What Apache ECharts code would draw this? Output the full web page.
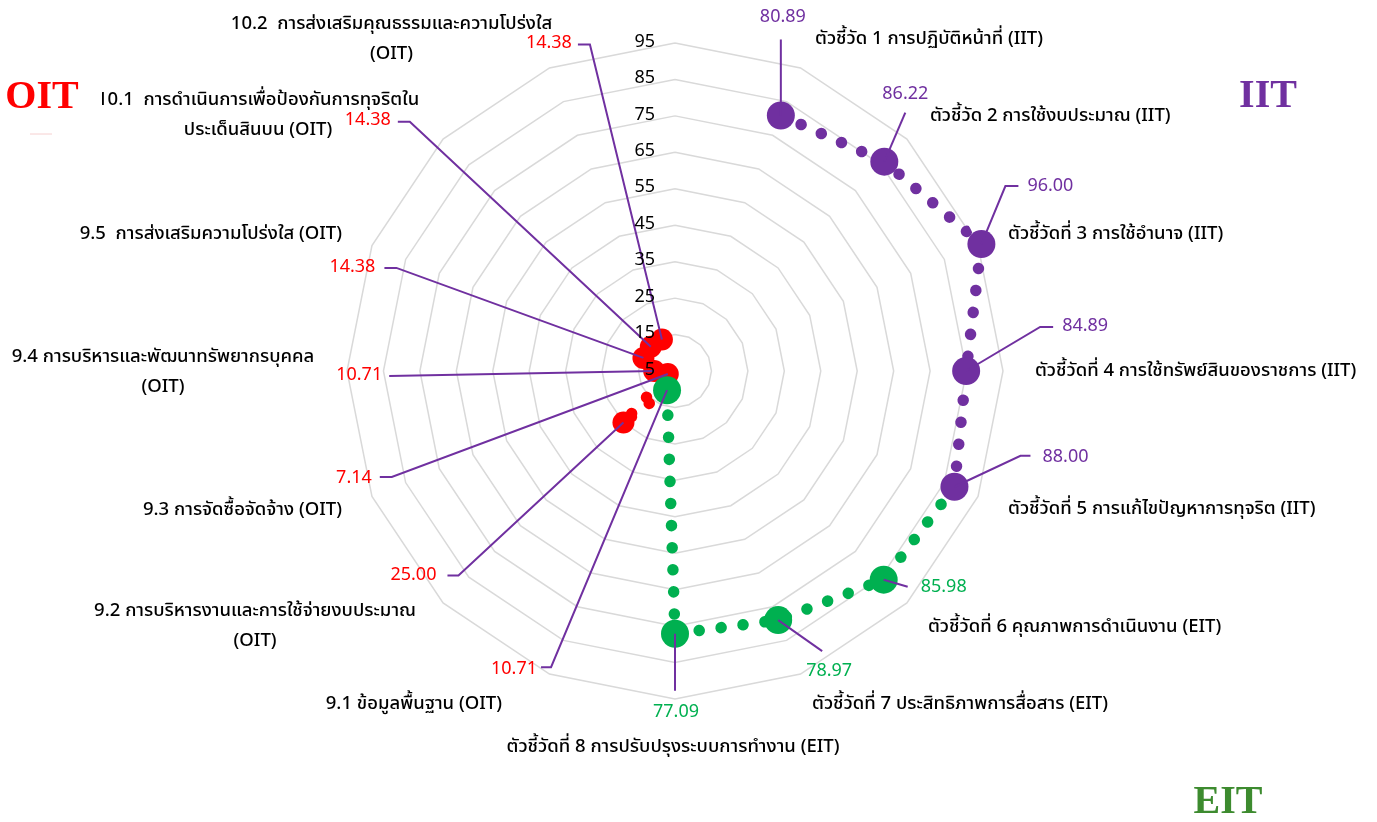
<!DOCTYPE html>
<html><head><meta charset="utf-8">
<script src="https://cdn.jsdelivr.net/npm/echarts@6/dist/echarts.min.js"></script>
<style>html,body{margin:0;padding:0;background:#fff}#c{width:1377px;height:822px}</style>
</head><body><div id="c"></div>
<script>
// ---- data ----
const categories = [
  '',
  'ตัวชี้วัด 1 การปฏิบัติหน้าที่ (IIT)',
  'ตัวชี้วัด 2 การใช้งบประมาณ (IIT)',
  'ตัวชี้วัดที่ 3 การใช้อำนาจ (IIT)',
  'ตัวชี้วัดที่ 4 การใช้ทรัพย์สินของราชการ (IIT)',
  'ตัวชี้วัดที่ 5 การแก้ไขปัญหาการทุจริต (IIT)',
  'ตัวชี้วัดที่ 6 คุณภาพการดำเนินงาน (EIT)',
  'ตัวชี้วัดที่ 7 ประสิทธิภาพการสื่อสาร (EIT)',
  'ตัวชี้วัดที่ 8 การปรับปรุงระบบการทำงาน (EIT)',
  '9.1 ข้อมูลพื้นฐาน (OIT)',
  '9.2 การบริหารงานและการใช้จ่ายงบประมาณ\n(OIT)',
  '9.3 การจัดซื้อจัดจ้าง (OIT)',
  '9.4 การบริหารและพัฒนาทรัพยากรบุคคล\n(OIT)',
  '9.5  การส่งเสริมความโปร่งใส (OIT)',
  '10.1  การดำเนินการเพื่อป้องกันการทุจริตใน\nประเด็นสินบน (OIT)',
  '10.2  การส่งเสริมคุณธรรมและความโปร่งใส\n(OIT)'
];
const iitScores = [80.89, 86.22, 96.00, 84.89, 88.00];           // indicators 1-5
const eitScores = [85.98, 78.97, 77.09];                         // indicators 6-8
const oitScores = [10.71, 25.00, 7.14, 10.71, 14.38, 14.38, 14.38]; // 9.1 - 10.2
const tickValues = [5, 15, 25, 35, 45, 55, 65, 75, 85, 95];

// ---- styling / layout ----
const PURPLE = '#7030A0', GREEN = '#00B050', RED = '#FF0000';
const CX = 675, CY = 371, R = 328;
const FONT = '"Leelawadee UI", Tahoma, "Noto Sans Thai", "Noto Sans", sans-serif';

// name label offsets relative to the outer (95) vertex of each spoke
const nameLayout = [
  null,
  [14.5, -28, 'left'], [23, -22, 'left'], [30, -10.5, 'left'], [32, 1, 'left'],
  [30, 13.5, 'left'], [21, 25, 'left'], [11.5, 31, 'left'], [-2, 49, 'center'],
  [-47.5, 31, 'right'], [-188, 24.5, 'center'], [-30, 14.5, 'right'], [-184, 2, 'center'],
  [-30, -10.5, 'right'], [-185, -22.5, 'center'], [-158, -28, 'center']
];
// value label leader offsets relative to the data point
const leaderLayout = [
  {e: [0, -76], t: [2, -97, 'center']},
  {e: [21, -49], t: [21, -66, 'center']},
  {e: [24, -58], f: [37, -58], t: [46, -57, 'left']},
  {e: [74, -44], f: [87, -44], t: [96, -44, 'left']},
  {e: [66, -31], f: [76, -31], t: [88, -28, 'left']},
  {e: [24, 7], t: [37, 9, 'left']},
  {e: [44, 31], t: [51, 52, 'center']},
  {e: [0, 57], t: [1, 80, 'center']},
  {e: [-116, 277], f: [-126, 277], t: [-130, 280, 'right']},
  {e: [-165, 153], f: [-176, 153], t: [-187, 154, 'right']},
  {e: [-276, 103], f: [-288, 103], t: [-296, 105, 'right']},
  {e: [-265, 5], t: [-272, 5, 'right']},
  {e: [-247, -90], f: [-259, -90], t: [-268, -90, 'right']},
  {e: [-241, -225], f: [-253, -225], t: [-260, -225, 'right']},
  {e: [-72, -295], f: [-84, -295], t: [-90, -295, 'right']}
];

// ---- build ----
const N = categories.length;
const allScores = [null].concat(iitScores, eitScores, oitScores);
const groupColor = i => (i <= iitScores.length ? PURPLE : (i <= iitScores.length + eitScores.length ? GREEN : RED));

function seriesArr(from, to, skipSymbolAt) {
  const a = [];
  for (let i = 0; i < N; i++) {
    if (i >= from && i <= to) {
      a.push(i === skipSymbolAt ? {value: allScores[i], symbol: 'none'} : allScores[i]);
    } else a.push('-');
  }
  return a;
}
const nI = iitScores.length, nE = eitScores.length;
const purpleData = seriesArr(1, nI, -1);
const greenData = seriesArr(nI, nI + nE + 1, nI);
const redData = seriesArr(nI + nE + 1, N - 1, -1);

function dotted(color, size, data, z) {
  return {
    type: 'line', coordinateSystem: 'polar', data: data, z: z,
    symbol: 'circle', symbolSize: size, showAllSymbol: true, clip: false,
    silent: true, animation: false, connectNulls: false,
    itemStyle: {color: color, opacity: 1},
    lineStyle: {color: color, width: 11.5, type: [0.1, 22], cap: 'round'}
  };
}

const leaderItems = [];
for (let i = 1; i < N; i++) leaderItems.push([allScores[i], i]);
const nameItems = [];
for (let i = 1; i < N; i++) nameItems.push([tickValues[tickValues.length - 1], i]);

const chart = echarts.init(document.getElementById('c'), null, {renderer: 'canvas'});
chart.setOption({
  backgroundColor: '#fff',
  animation: false,
  radar: {
    center: [CX, CY], radius: R, startAngle: 90, shape: 'polygon',
    splitNumber: tickValues.length - 1,
    indicator: categories.map(c => ({name: c, min: tickValues[0], max: tickValues[tickValues.length - 1]})),
    axisName: {show: false},
    axisLine: {show: false}, axisTick: {show: false}, axisLabel: {show: false},
    splitArea: {show: false},
    splitLine: {lineStyle: {color: '#D9D9D9', width: 1.5}}
  },
  polar: {center: [CX, CY], radius: R},
  angleAxis: {
    type: 'category', data: categories, startAngle: 90, boundaryGap: false, clockwise: true,
    axisLine: {show: false}, axisTick: {show: false}, axisLabel: {show: false}, splitLine: {show: false}
  },
  radiusAxis: {
    min: tickValues[0], max: tickValues[tickValues.length - 1], interval: tickValues[1] - tickValues[0],
    axisLine: {show: false}, axisTick: {show: false}, splitLine: {show: false},
    axisLabel: {show: true, color: '#000', fontSize: 18, fontFamily: FONT, margin: 20}, z: 20
  },
  series: [
    dotted(RED, 22, redData, 3),
    dotted(GREEN, 28, greenData, 4),
    dotted(PURPLE, 28, purpleData, 5),
    {
      type: 'custom', coordinateSystem: 'polar', data: leaderItems, z: 10, silent: true,
      renderItem: function (params, api) {
        const k = params.dataIndex;
        const idx = k + 1;
        const v = allScores[idx];
        const p = api.coord([v, idx]);
        const L = leaderLayout[k];
        const pts = [[p[0], p[1]], [p[0] + L.e[0], p[1] + L.e[1]]];
        if (L.f) pts.push([p[0] + L.f[0], p[1] + L.f[1]]);
        return {
          type: 'group', children: [
            {type: 'polyline', shape: {points: pts}, style: {stroke: PURPLE, lineWidth: 2, fill: 'none'}},
            {type: 'text', style: {text: v.toFixed(2), x: p[0] + L.t[0], y: p[1] + L.t[1],
              align: L.t[2], verticalAlign: 'middle', fill: groupColor(idx), fontSize: 18, fontFamily: FONT}}
          ]
        };
      }
    },
    {
      type: 'custom', coordinateSystem: 'polar', data: nameItems, z: 10, silent: true,
      renderItem: function (params, api) {
        const idx = params.dataIndex + 1;
        const p = api.coord([tickValues[tickValues.length - 1], idx]);
        const L = nameLayout[idx];
        return {type: 'text', style: {text: categories[idx], x: p[0] + L[0], y: p[1] + L[1],
          align: L[2], verticalAlign: 'middle', fill: '#000', fontSize: 18.5, fontWeight: 500,
          lineHeight: 30, fontFamily: FONT}};
      }
    }
  ],
  graphic: [
    {type: 'rect', left: 0, top: 84, shape: {width: 102, height: 36}, style: {fill: '#fff'}, z: 100},
    {type: 'line', shape: {x1: 30, y1: 134, x2: 52, y2: 134}, style: {stroke: '#f6d0d0', lineWidth: 1}, z: 100},
    {type: 'text', x: 42, y: 98, z: 101, style: {text: 'OIT', fill: RED, font: 'bold 40px "Liberation Serif", "Times New Roman", serif', align: 'center', verticalAlign: 'middle'}},
    {type: 'text', x: 1268, y: 97, z: 101, style: {text: 'IIT', fill: PURPLE, font: 'bold 40px "Liberation Serif", "Times New Roman", serif', align: 'center', verticalAlign: 'middle'}},
    {type: 'text', x: 1228, y: 803, z: 101, style: {text: 'EIT', fill: '#3D8B2F', font: 'bold 40px "Liberation Serif", "Times New Roman", serif', align: 'center', verticalAlign: 'middle'}}
  ]
});
</script>
</body></html>
